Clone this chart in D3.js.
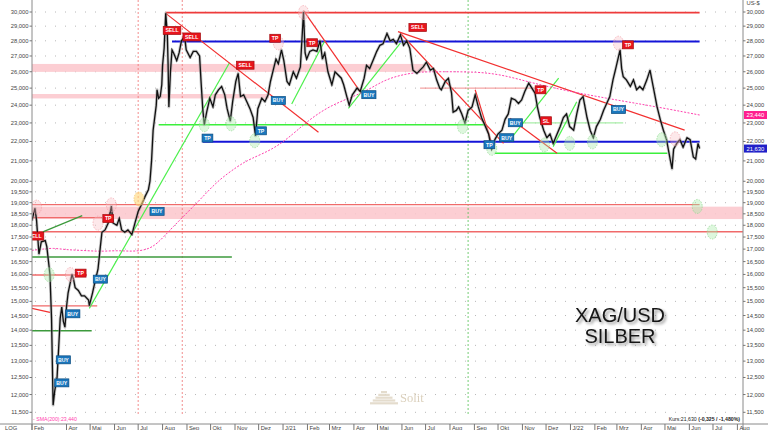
<!DOCTYPE html>
<html><head><meta charset="utf-8">
<script src="https://cdn.jsdelivr.net/npm/d3@7"></script>
<style>body{margin:0;background:#fff}svg{display:block}</style>
</head><body>
<svg id="chart" width="768" height="430"></svg>
<script>
// ---------- DATA ----------
const price = [
["2020-02-17",18.2],["2020-02-21",18.75],["2020-02-23",18.2],["2020-02-26",16.8],["2020-02-29",17.3],
["2020-03-05",17.35],["2020-03-07",17.1],["2020-03-11",16.0],["2020-03-13",14.4],["2020-03-15",11.7],
["2020-03-17",12.1],["2020-03-20",12.5],["2020-03-22",13.4],["2020-03-24",14.4],["2020-03-26",14.8],
["2020-03-28",14.3],["2020-03-30",14.1],["2020-04-01",14.8],["2020-04-03",15.3],["2020-04-08",16.0],
["2020-04-10",15.8],["2020-04-12",15.5],["2020-04-16",15.4],["2020-04-20",15.2],["2020-04-24",15.2],
["2020-04-29",15.05],["2020-04-30",14.85],["2020-05-04",15.3],["2020-05-07",15.7],["2020-05-11",16.2],
["2020-05-14",17.1],["2020-05-16",17.7],["2020-05-20",17.8],["2020-05-24",18.1],["2020-05-28",18.85],
["2020-05-30",18.1],["2020-06-04",18.0],["2020-06-07",18.3],["2020-06-10",17.8],["2020-06-14",17.7],
["2020-06-18",17.8],["2020-06-23",17.6],["2020-06-27",18.1],["2020-07-01",18.6],["2020-07-05",18.9],
["2020-07-10",19.3],["2020-07-14",19.6],["2020-07-16",20.0],["2020-07-18",21.0],["2020-07-20",22.6],
["2020-07-24",24.0],["2020-07-25",24.9],["2020-07-27",24.4],["2020-07-29",24.5],["2020-07-31",25.2],
["2020-08-01",26.4],["2020-08-03",27.5],["2020-08-05",29.9],["2020-08-07",28.5],["2020-08-08",26.5],
["2020-08-09",23.9],["2020-08-11",26.0],["2020-08-13",27.4],["2020-08-15",27.2],["2020-08-19",26.7],
["2020-08-22",27.2],["2020-08-25",28.0],["2020-08-29",28.3],["2020-08-31",27.4],["2020-09-05",26.9],
["2020-09-09",27.3],["2020-09-13",27.3],["2020-09-17",27.0],["2020-09-19",25.3],["2020-09-21",23.8],
["2020-09-23",22.9],["2020-09-26",23.6],["2020-09-30",24.4],["2020-10-04",23.9],["2020-10-07",24.6],
["2020-10-11",24.9],["2020-10-15",25.1],["2020-10-19",24.6],["2020-10-22",23.8],["2020-10-26",23.1],
["2020-10-29",24.2],["2020-11-02",25.4],["2020-11-05",25.9],["2020-11-08",24.5],["2020-11-12",24.6],
["2020-11-16",24.2],["2020-11-20",23.8],["2020-11-24",23.3],["2020-11-27",22.3],["2020-11-30",23.8],
["2020-12-05",24.4],["2020-12-09",24.2],["2020-12-13",24.6],["2020-12-16",25.4],["2020-12-20",26.2],
["2020-12-23",26.8],["2020-12-26",26.5],["2020-12-30",27.4],["2021-01-02",26.7],["2021-01-06",25.4],
["2021-01-09",25.2],["2021-01-14",26.0],["2021-01-18",25.6],["2021-01-23",26.3],["2021-01-27",30.0],
["2021-01-29",27.2],["2021-01-31",26.8],["2021-02-04",27.3],["2021-02-08",27.4],["2021-02-13",27.3],
["2021-02-17",28.0],["2021-02-20",26.8],["2021-02-23",27.2],["2021-02-27",26.0],["2021-03-04",25.2],
["2021-03-08",26.0],["2021-03-12",25.8],["2021-03-16",25.6],["2021-03-19",25.2],["2021-03-23",24.5],
["2021-03-26",24.0],["2021-03-30",24.6],["2021-04-05",25.0],["2021-04-09",24.8],["2021-04-14",25.6],
["2021-04-17",26.4],["2021-04-21",26.2],["2021-04-26",26.8],["2021-04-30",27.3],["2021-05-04",27.7],
["2021-05-08",27.8],["2021-05-13",28.5],["2021-05-17",28.0],["2021-05-21",28.1],["2021-05-25",27.8],
["2021-05-30",28.4],["2021-06-03",27.7],["2021-06-07",28.0],["2021-06-11",27.5],["2021-06-15",26.1],
["2021-06-20",25.9],["2021-06-24",26.1],["2021-06-28",26.3],["2021-07-02",26.6],["2021-07-07",26.1],
["2021-07-11",26.2],["2021-07-15",25.5],["2021-07-19",25.0],["2021-07-21",24.9],["2021-07-26",25.4],
["2021-07-30",25.6],["2021-08-03",24.7],["2021-08-05",23.6],["2021-08-09",23.7],["2021-08-12",23.9],
["2021-08-16",23.5],["2021-08-20",23.0],["2021-08-24",23.7],["2021-08-29",23.9],["2021-09-02",24.6],
["2021-09-06",23.9],["2021-09-10",23.3],["2021-09-15",22.8],["2021-09-19",22.4],["2021-09-23",21.6],
["2021-09-27",22.1],["2021-10-01",22.4],["2021-10-06",22.6],["2021-10-10",23.2],["2021-10-14",23.5],
["2021-10-18",24.4],["2021-10-23",24.3],["2021-10-27",24.1],["2021-10-31",24.3],["2021-11-04",24.8],
["2021-11-09",25.3],["2021-11-13",25.0],["2021-11-17",24.7],["2021-11-20",23.9],["2021-11-23",23.3],
["2021-11-28",22.6],["2021-12-02",22.2],["2021-12-06",22.4],["2021-12-10",21.9],["2021-12-15",22.4],
["2021-12-19",22.8],["2021-12-23",23.3],["2021-12-27",23.5],["2021-12-31",22.8],["2022-01-05",22.6],
["2022-01-09",23.5],["2022-01-13",24.3],["2022-01-17",24.5],["2022-01-22",23.3],["2022-01-26",22.6],
["2022-01-30",22.2],["2022-02-03",22.8],["2022-02-08",23.2],["2022-02-12",23.7],["2022-02-16",24.1],
["2022-02-20",24.5],["2022-02-24",25.5],["2022-02-28",26.3],["2022-03-05",27.4],["2022-03-07",26.2],
["2022-03-09",25.7],["2022-03-13",25.5],["2022-03-18",25.1],["2022-03-22",25.5],["2022-03-26",24.9],
["2022-03-30",25.1],["2022-04-03",24.9],["2022-04-08",25.5],["2022-04-12",26.1],["2022-04-16",25.1],
["2022-04-21",23.9],["2022-04-25",23.2],["2022-04-29",22.6],["2022-05-03",22.1],["2022-05-08",21.0],
["2022-05-10",20.6],["2022-05-12",21.6],["2022-05-16",21.9],["2022-05-20",22.1],["2022-05-24",21.7],
["2022-05-29",22.2],["2022-06-02",22.1],["2022-06-06",21.2],["2022-06-09",21.1],["2022-06-12",21.9],
["2022-06-14",21.63]
];
const sma200 = [
["2020-02-17",16.95],["2020-03-02",17.0],["2020-03-15",17.05],["2020-04-01",16.97],["2020-04-22",16.95],
["2020-05-14",16.9],["2020-06-04",16.95],["2020-06-24",16.9],["2020-07-12",16.97],["2020-07-25",17.2],
["2020-08-13",17.9],["2020-09-17",19.1],["2020-10-09",20.0],["2020-11-05",20.75],["2020-11-20",21.1],
["2020-12-20",21.6],["2021-01-14",22.4],
["2021-02-01",23.1],["2021-02-26",23.87],["2021-03-23",24.36],["2021-04-18",24.85],["2021-05-08",25.45],
["2021-05-30",25.8],["2021-06-24",26.0],["2021-07-19",26.0],["2021-09-05",26.0],["2021-10-08",25.8],
["2021-11-14",25.3],["2021-12-31",24.8],["2022-02-16",24.4],["2022-03-26",24.1],["2022-05-03",23.8],
["2022-06-14",23.44]
];
const yTicks = [11.5,12,12.5,13,13.5,14,14.5,15,15.5,16,16.5,17,17.5,18,18.5,19,19.5,20,21,22,23,24,25,26,27,28,29,30];
const monthNames = ["J","Feb","Mrz","Apr","Mai","Jun","Jul","Aug","Sep","Okt","Nov","Dez"];
const lastPrice = 21.63, lastSma = 23.44;

// horizontal levels: [start, end, value]
const redLevels = [["2020-08-05","2022-06-14",29.95]];
const softRedLevels = [["2020-02-17","2022-06-14",18.91],["2020-02-17","2022-08-08",17.72],["2020-02-17","2020-05-16",18.33],
  ["2020-02-17","2020-04-27",15.98],["2020-02-17","2020-05-10",14.84]];
const thinRedLevels = [["2021-06-24","2021-11-21",25.0]];
const blueLevels = [["2020-08-13","2022-06-14",27.95],["2020-09-21","2022-06-14",21.99]];
const greenLevels = [["2020-07-27","2021-09-15",22.9],["2021-09-27","2022-05-04",21.39]];
const fadedGreenLevels = [["2021-11-01","2022-03-09",23.0]];
const darkGreenLevels = [["2020-02-17","2020-10-28",16.68],["2020-02-17","2020-05-03",13.98]];
// bands: [start, end, low, high]
const pinkBands = [["2020-02-17","2022-08-08",18.27,18.82],["2020-02-17","2021-07-01",25.99,26.49],["2020-02-17","2020-12-14",24.39,24.65]];
// trend lines: [d1, v1, d2, v2]
const redTrends = [["2020-08-05",29.9,"2021-02-15",22.49],["2021-01-27",30.1,"2021-04-09",24.79],
  ["2021-05-27",28.62,"2022-05-26",22.61],["2021-05-30",28.51,"2021-10-08",21.9],
  ["2021-09-02",24.9,"2021-09-25",21.64],["2021-10-16",23.26,"2021-12-15",21.39],
  ["2020-02-17",14.75,"2020-03-11",14.61]];
const greenTrends = [["2020-04-30",14.75,"2020-10-25",26.57],
  ["2021-01-12",24.07,"2021-02-23",28.01],["2021-03-25",23.82,"2021-05-30",27.84],
  ["2021-10-16",22.09,"2021-12-17",25.6],["2021-12-10",21.73,"2022-01-09",24.2]];
const darkGreenTrends = [["2020-03-02",17.72,"2020-04-21",18.42]];
// vertical markers
const redVLines = ["2020-07-01","2020-08-26"];
const greenVLines = ["2021-08-24"];
// signal labels: [date, value]
const buySignals = [["2020-07-25",18.61],["2020-05-14",15.82],["2020-04-09",14.56],["2020-03-28",13.04],["2020-03-26",12.34],
  ["2020-12-26",24.27],["2021-04-20",24.61],["2021-10-23",23.01],["2021-10-12",22.2],["2022-03-03",23.75]];
const redSignals = [["2020-02-21",17.54,"SELL"],["2020-05-24",18.29,"TP"],["2020-04-19",16.05,"TP"],
  ["2020-08-13",28.7,"SELL"],["2020-09-07",28.26,"SELL"],["2020-11-14",26.41,"SELL"],["2020-12-22",28.17,"TP"],
  ["2021-02-07",27.87,"TP"],["2021-06-21",28.91,"SELL"],["2022-03-15",27.73,"TP"],["2021-11-24",24.9,"TP"],
  ["2021-12-01",23.12,"SL"]];
const blueSignals = [["2020-09-27",22.18,"TP"],["2020-12-04",22.57,"TP"],["2021-09-20",21.83,"TP"]];
// circled marks: [date, value]
const pinkMarks = [["2020-02-23",18.8],["2020-05-11",18.09],["2020-05-28",18.9],["2020-04-06",16.0],["2021-01-27",29.96],
  ["2020-12-26",27.86],["2022-03-03",27.84],["2022-05-14",22.14]];
const greenMarks = [["2020-03-10",15.99],["2020-09-23",22.9],["2020-10-27",22.95],["2020-11-26",22.04],["2021-08-17",22.8],
  ["2021-09-23",21.64],["2021-11-29",21.82],["2021-12-31",21.9],["2022-01-29",21.98],["2022-04-27",22.09],
  ["2022-06-11",18.83],["2022-06-30",17.71]];
const yellowMarks = [["2020-07-02",19.17]];

// ---------- CHART ----------
const parse = d3.timeParse("%Y-%m-%d");
const svg = d3.select("#chart");
const L = 32, R = 743, T = 0, B = 424;
const x = d3.scaleTime().domain([new Date(2020,3,1), new Date(2022,7,1)]).range([66.5, 737.4]);
const y = d3.scaleLog().domain([11.5, 30]).range([412.3, 12]);
const fmt = v => v.toFixed(3).replace(".", ",");
const font = "'Liberation Sans', Arial, sans-serif";

const defs = svg.append("defs");
defs.append("clipPath").attr("id","plot").append("rect").attr("x",L).attr("y",T).attr("width",R-L).attr("height",B-T);
const sh = defs.append("filter").attr("id","shadow").attr("x","-20%").attr("y","-40%").attr("width","140%").attr("height","180%");
sh.append("feGaussianBlur").attr("in","SourceAlpha").attr("stdDeviation",1.6).attr("result","b");
sh.append("feOffset").attr("in","b").attr("dx",1.5).attr("dy",2).attr("result","o");
sh.append("feComponentTransfer").attr("in","o").attr("result","o2").append("feFuncA").attr("type","linear").attr("slope",0.45);
const mg = sh.append("feMerge"); mg.append("feMergeNode").attr("in","o2"); mg.append("feMergeNode").attr("in","SourceGraphic");

svg.append("rect").attr("width",768).attr("height",430).attr("fill","#fff");

// grid
svg.append("g").selectAll("line").data(yTicks).join("line")
  .attr("x1",L+3).attr("x2",R).attr("y1",d=>y(d)).attr("y2",d=>y(d))
  .attr("stroke","#b8b8b8").attr("stroke-width",1).attr("stroke-dasharray","1,9");

const plot = svg.append("g").attr("clip-path","url(#plot)");

// bands
plot.append("g").selectAll("rect").data(pinkBands).join("rect")
  .attr("x",d=>x(parse(d[0]))).attr("width",d=>x(parse(d[1]))-x(parse(d[0])))
  .attr("y",d=>y(d[3])).attr("height",d=>y(d[2])-y(d[3]))
  .attr("fill","#fbc5cb").attr("opacity",0.85);

// vertical dotted markers
plot.append("g").selectAll("line").data(redVLines).join("line")
  .attr("x1",d=>x(parse(d))).attr("x2",d=>x(parse(d))).attr("y1",T).attr("y2",416)
  .attr("stroke","#f07070").attr("stroke-width",0.8).attr("stroke-dasharray","2,2");
plot.append("g").selectAll("line").data(greenVLines).join("line")
  .attr("x1",d=>x(parse(d))).attr("x2",d=>x(parse(d))).attr("y1",T).attr("y2",416)
  .attr("stroke","#50c050").attr("stroke-width",0.8).attr("stroke-dasharray","2,2");

function levels(data, color, w, op){
  plot.append("g").selectAll("line").data(data).join("line")
    .attr("x1",d=>x(parse(d[0]))).attr("x2",d=>x(parse(d[1])))
    .attr("y1",d=>y(d[2])).attr("y2",d=>y(d[2]))
    .attr("stroke",color).attr("stroke-width",w).attr("opacity",op||1);
}
function trends(data, color, w){
  plot.append("g").selectAll("line").data(data).join("line")
    .attr("x1",d=>x(parse(d[0]))).attr("y1",d=>y(d[1]))
    .attr("x2",d=>x(parse(d[2]))).attr("y2",d=>y(d[3]))
    .attr("stroke",color).attr("stroke-width",w);
}
levels(softRedLevels,"#f06a6a",1.4);
levels(darkGreenLevels,"#3c9a3c",1.5);
levels(thinRedLevels,"#f08080",0.9);
levels(fadedGreenLevels,"#a8eea8",1.3);
levels(greenLevels,"#3cf03c",1.6);
levels(redLevels,"#ee3b3b",1.7);
levels(blueLevels,"#1414d8",2);
trends(darkGreenTrends,"#3c9a3c",1.3);
trends(greenTrends,"#4cf04c",1.2);
trends(redTrends,"#f23030",1.2);

// SMA 200
plot.append("path").datum(sma200)
  .attr("d", d3.line().x(d=>x(parse(d[0]))).y(d=>y(d[1])).curve(d3.curveBasis))
  .attr("fill","none").attr("stroke","#ff3fae").attr("stroke-width",1).attr("stroke-dasharray","2,1.5");

// price
const pline = d3.line().x(d=>x(parse(d[0]))).y(d=>y(d[1]));
plot.append("path").datum(price).attr("d",pline).attr("fill","none")
  .attr("stroke","#9a9a9a").attr("stroke-width",3).attr("stroke-linejoin","round").attr("opacity",0.55);
plot.append("path").datum(price).attr("d",pline).attr("fill","none")
  .attr("stroke","#111").attr("stroke-width",1.3).attr("stroke-linejoin","miter");

// marks
function marks(data, fill, stroke){
  plot.append("g").selectAll("ellipse").data(data).join("ellipse")
    .attr("cx",d=>x(parse(d[0]))).attr("cy",d=>y(d[1])).attr("rx",5).attr("ry",7)
    .attr("fill",fill).attr("stroke",stroke).attr("stroke-width",0.7).attr("stroke-dasharray","1.5,1.2");
}
marks(pinkMarks,"rgba(250,190,195,0.35)","#f0a0a8");
marks(greenMarks,"rgba(170,235,170,0.4)","#90d890");
marks(yellowMarks,"rgba(255,215,120,0.6)","#f5c870");

// signal labels
function signals(data, fill, stroke){
  const g = plot.append("g").selectAll("g").data(data).join("g")
    .attr("transform",d=>`translate(${x(parse(d[0]))},${y(d[1])})`);
  const wOf = t => t.length*3.4+4;
  g.append("rect").attr("x",d=>-wOf(d[2])/2).attr("y",-4).attr("width",d=>wOf(d[2])).attr("height",8)
    .attr("fill",fill).attr("stroke",stroke).attr("stroke-width",0.7);
  g.append("text").text(d=>d[2]).attr("text-anchor","middle").attr("y",1.9)
    .attr("font-family",font).attr("font-size",5.2).attr("font-weight","bold").attr("fill","#fff");
}
signals(redSignals,"#e8141c","#a10d10");
signals(blueSignals,"#1a77bd","#0b4c80");
signals(buySignals.map(d=>[d[0],d[1],"BUY"]),"#1a77bd","#0b4c80");

// ---------- AXES ----------
const ax = svg.append("g").attr("font-family",font).attr("font-size",5.8).attr("fill","#444");
ax.append("line").attr("x1",L).attr("x2",L).attr("y1",0).attr("y2",430).attr("stroke","#8a8a8a");
ax.append("line").attr("x1",R).attr("x2",R).attr("y1",0).attr("y2",430).attr("stroke","#8a8a8a");
ax.append("line").attr("x1",0).attr("x2",768).attr("y1",B).attr("y2",B).attr("stroke","#8a8a8a");
// right
ax.append("g").selectAll("line").data(yTicks).join("line")
  .attr("x1",R).attr("x2",R+2.5).attr("y1",d=>y(d)).attr("y2",d=>y(d)).attr("stroke","#777");
ax.append("g").selectAll("text").data(yTicks).join("text")
  .attr("x",R+3.5).attr("y",d=>y(d)+2).text(fmt);
// left
ax.append("g").selectAll("line").data(yTicks).join("line")
  .attr("x1",L-2.5).attr("x2",L).attr("y1",d=>y(d)).attr("y2",d=>y(d)).attr("stroke","#777");
ax.append("g").selectAll("text").data(yTicks).join("text")
  .attr("x",L-3.5).attr("y",d=>y(d)+2).attr("text-anchor","end").text(fmt);
ax.append("text").attr("x",R+3.5).attr("y",5).text("US-$");
// highlighted values
[[lastSma,"#ff1f8f"],[lastPrice,"#2020c8"]].forEach(([v,c])=>{
  ax.append("rect").attr("x",R+1).attr("y",y(v)-4).attr("width",23).attr("height",8).attr("fill",c);
  ax.append("text").attr("x",R+3.5).attr("y",y(v)+2).attr("fill","#fff").text(fmt(v));
});
// bottom
const months = d3.timeMonth.range(new Date(2020,3,1), new Date(2022,7,2));
const tickX = [{x:L, t:monthNames[1]}].concat(months.map(m=>({x:x(m), t:m.getMonth()===0 ? "J/"+String(m.getFullYear()).slice(2) : monthNames[m.getMonth()]})));
ax.append("g").selectAll("line").data(tickX).join("line")
  .attr("x1",d=>d.x).attr("x2",d=>d.x).attr("y1",B).attr("y2",430).attr("stroke","#777");
ax.append("g").selectAll("text").data(tickX).join("text")
  .attr("x",d=>d.x+2).attr("y",429.5).text(d=>d.t);
ax.append("text").attr("x",5).attr("y",429.5).text("LOG");
ax.append("text").attr("x",L+1).attr("y",421).attr("fill","#ff3fae").attr("font-size",5.2).text("- SMA(200):" + fmt(lastSma));
const kurs = ax.append("text").attr("x",R-3).attr("y",421).attr("text-anchor","end").attr("font-size",5.2).attr("fill","#222");
kurs.append("tspan").text("Kurs:" + fmt(lastPrice) + " ");
kurs.append("tspan").attr("font-weight","bold").text("(-0,325 / -1,480%)");

// title
const tg = svg.append("g").attr("filter","url(#shadow)").attr("font-family",font).attr("fill","#151515").attr("text-anchor","middle");
tg.append("text").attr("x",620).attr("y",321.5).attr("font-size",20).text("XAG/USD");
tg.append("text").attr("x",620).attr("y",343.3).attr("font-size",20).text("SILBER");

// watermark
const wm = svg.append("g").attr("opacity",0.9);
[0,1,2,3,4].forEach(i=>{
  const w = 6 + i*5.5, yy = 391 + i*2.8;
  wm.append("rect").attr("x",384 - w/2).attr("y",yy).attr("width",w).attr("height",2.2).attr("fill","#e2d9c8");
});
wm.append("text").attr("x",400).attr("y",401.5).attr("font-family","'Liberation Serif', 'DejaVu Serif', serif")
  .attr("font-size",12.5).attr("fill","#d8ccb6").text("Solit");
</script>
</body></html>
